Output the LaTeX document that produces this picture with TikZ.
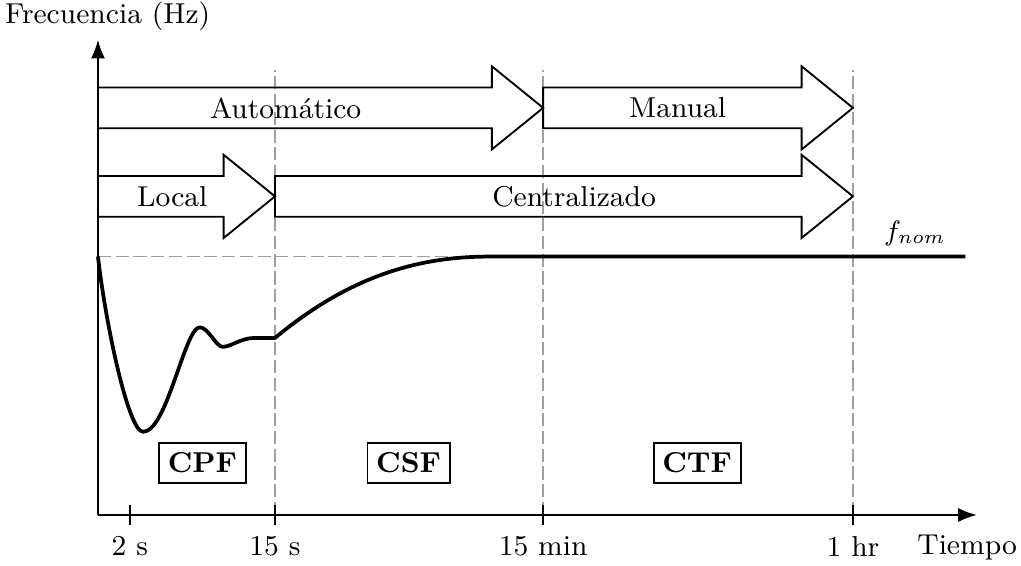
\documentclass[tikz,border=0pt]{standalone}
\usepackage{amsmath}
\usepackage{tikz}
\usetikzlibrary{calc}
\usetikzlibrary{arrows.meta}
\tikzset{>={Latex[length=6pt,width=4.5pt]}}
\tikzset{blockarrow/.style={semithick,line join=miter}}
\tikzset{guide/.style={gray!75,semithick,dash pattern=on 4.2pt off 1.5pt}}
\tikzset{zone/.style={draw,semithick,font=\fontsize{9.25pt}{11pt}\selectfont\bfseries,inner xsep=2.8pt,inner ysep=3.1pt}}

\begin{document}
\begin{tikzpicture}[every node/.style={font=\fontsize{9.25pt}{11pt}\selectfont}]
    \useasboundingbox (-1.107,-0.565) rectangle (10.429,5.819);
    \coordinate (O) at (0,0);
    \coordinate (xend) at (9.93,0);
    \coordinate (yend) at (0,5.37);
    % guide lines
    \foreach \x in {2,5.03,8.53} {
      \draw[guide] (\x,0) -- (\x,5.03);
    }
    \draw[guide] (0,2.92) -- (4.43,2.92);
    % block arrows
    \foreach \xa/\xb/\yc/\xt/\txt/\nm in {0/5.03/4.6/2.12/Automático/auto, 5.03/8.53/4.6/6.55/Manual/manual, 0/2/3.6/0.84/Local/local, 2/8.53/3.6/5.38/Centralizado/central} {
      \draw[blockarrow] (\xa,\yc+0.23) -- (\xb-0.58,\yc+0.23) -- (\xb-0.58,\yc+0.47) -- (\xb,\yc)
        -- (\xb-0.58,\yc-0.47) -- (\xb-0.58,\yc-0.23) -- (\xa,\yc-0.23) -- cycle;
      \node (\nm) at (\xt,\yc) {\txt};
    }
    % frequency response
    \draw[very thick,line join=round] (0,2.92) .. controls (0.08,2.2) and (0.34,0.94) .. (0.51,0.94)
      .. controls (0.78,0.94) and (0.98,2.12) .. (1.15,2.12)
      .. controls (1.25,2.12) and (1.33,1.9) .. (1.41,1.9)
      .. controls (1.5,1.9) and (1.62,2.0) .. (1.76,2.0) -- (2,2.0)
      .. controls (2.9,2.75) and (3.7,2.92) .. (4.43,2.92) -- (9.8,2.92);
    \node[above] (fnom) at (9.23,2.92) {$f_{nom}$};
    % axes
    \draw[semithick,->] (O) -- (xend);
    \draw[semithick,->] (O) -- (yend);
    \node (ylab) at (0.11,5.64) {Frecuencia (Hz)};
    \node (xlab) at (9.82,-0.37) {Tiempo};
    \foreach \x/\lab [count=\i] in {0.36/2 s, 2/15 s, 5.03/15 min, 8.53/1 hr} {
      \draw[semithick] (\x,0.11) -- (\x,-0.11) node[below] (tick\i) {\lab};
    }
    % control zones
    \node[zone] (cpf) at (1.18,0.59) {CPF};
    \node[zone] (csf) at (3.51,0.59) {CSF};
    \node[zone] (ctf) at (6.77,0.59) {CTF};
\end{tikzpicture}
\end{document}
